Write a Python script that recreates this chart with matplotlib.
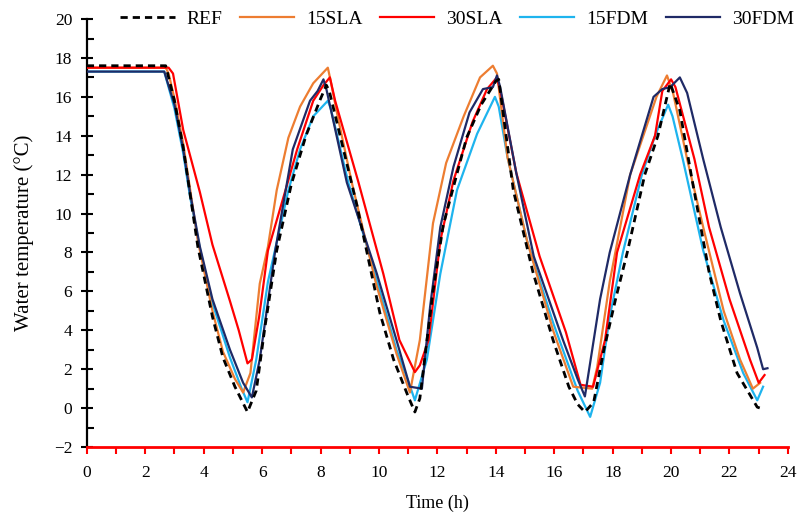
import numpy as np
import matplotlib.pyplot as plt
from matplotlib.ticker import MultipleLocator

plt.rcParams['font.family'] = ['Liberation Serif', 'DejaVu Serif']

# time (h) / water temperature (degC) traces
ref_t = [0, 2.7, 3.0, 3.3, 3.8, 4.3, 4.66, 5.07, 5.5, 5.8, 6.1, 6.5, 7.0, 7.5, 8.0, 8.2, 8.3,
         9.25, 10.03, 10.5, 11.0, 11.23, 11.4, 11.85, 12.2, 13.0, 13.5, 14.0, 14.1, 14.6, 15.27,
         15.96, 16.5, 16.8, 17.05, 17.35, 17.7, 18.1, 18.5, 19.1, 19.55, 19.97, 20.3, 20.7, 21.3,
         21.7, 22.26, 22.95, 23.05]
ref_v = [17.6, 17.6, 15.8, 13.4, 8.3, 4.7, 2.6, 1.1, -0.2, 0.9, 4.2, 8.1, 11.5, 14.0, 15.9, 16.6, 16.3,
         10.4, 4.9, 2.5, 0.6, -0.2, 0.5, 6.0, 9.4, 13.9, 15.6, 16.8, 16.9, 11.2, 7.0,
         3.5, 1.1, 0.2, -0.2, 0.3, 3.0, 5.6, 8.0, 12.0, 14.0, 16.7, 15.3, 11.9, 7.0,
         4.5, 1.8, 0.05, 0.0]

sla15_t = [0, 2.7, 2.8, 3.0, 3.3, 3.8, 4.3, 4.66, 5.07, 5.35, 5.6, 5.92, 6.2, 6.5, 6.9, 7.3, 7.75,
           8.0, 8.25, 8.35, 8.6, 9.07, 9.9, 10.6, 11.06, 11.4, 11.85, 12.3, 12.9, 13.46, 13.9,
           14.04, 14.4, 15.07, 15.96, 16.65, 17.3, 17.47, 17.9, 18.6, 19.05, 19.5, 19.86, 20.07,
           20.55, 21.1, 21.8, 22.36, 22.8, 23.05]
sla15_v = [17.5, 17.5, 17.2, 15.9, 13.6, 8.6, 5.0, 2.9, 1.5, 0.8, 1.8, 6.4, 8.3, 11.2, 13.9, 15.5, 16.7,
           17.1, 17.5, 16.8, 14.9, 11.6, 6.4, 2.8, 0.8, 3.5, 9.5, 12.6, 15.0, 17.0, 17.6,
           17.2, 12.9, 8.6, 4.0, 1.1, 1.0, 2.1, 6.5, 12.0, 14.0, 16.0, 17.1, 16.2,
           12.8, 9.3, 5.0, 2.5, 1.0, 1.3]

sla30_t = [0, 2.8, 2.95, 3.3, 3.87, 4.3, 4.9, 5.2, 5.5, 5.65, 5.9, 6.2, 6.8, 7.2, 7.75, 8.1, 8.32,
           8.5, 9.3, 10.15, 10.7, 11.23, 11.4, 11.7, 12.1, 12.55, 13.2, 13.7, 14.04, 14.2, 14.7,
           15.5, 16.4, 16.9, 17.33, 17.74, 18.15, 18.94, 19.45, 19.7, 20.0, 20.15, 20.8, 21.3,
           22.0, 22.7, 23.0, 23.2]
sla30_v = [17.5, 17.5, 17.2, 14.3, 11.1, 8.4, 5.5, 4.0, 2.3, 2.5, 4.7, 8.1, 11.2, 13.3, 15.8, 16.6, 17.0,
           15.8, 11.6, 6.9, 3.5, 1.85, 2.2, 3.5, 8.6, 11.7, 14.7, 16.4, 17.0, 16.0, 12.1,
           7.8, 3.9, 1.2, 1.1, 3.5, 8.0, 12.0, 14.0, 16.3, 16.9, 16.5, 12.8, 9.3,
           5.6, 2.5, 1.3, 1.7]

fdm15_t = [0, 2.65, 3.0, 3.3, 3.53, 3.87, 4.3, 4.9, 5.3, 5.5, 5.8, 6.2, 6.9, 7.3, 7.75, 8.25, 8.35,
           8.95, 9.9, 10.6, 11.0, 11.23, 11.64, 12.1, 12.67, 13.36, 13.97, 14.1, 14.4, 15.07,
           15.96, 16.8, 17.23, 17.57, 17.9, 18.35, 19.0, 19.45, 19.9, 20.05, 20.4, 21.1, 21.8,
           22.47, 22.95, 23.15]
fdm15_v = [17.3, 17.3, 15.4, 13.1, 10.9, 8.2, 5.4, 2.6, 1.0, 0.3, 2.5, 6.5, 11.2, 13.3, 15.0, 15.8, 15.4,
           11.6, 6.7, 3.0, 1.4, 0.4, 2.5, 6.9, 11.2, 14.1, 16.0, 15.5, 12.9, 8.6,
           4.4, 0.9, -0.45, 1.3, 4.7, 8.0, 12.0, 14.0, 15.6, 15.0, 12.8, 8.1, 4.5,
           1.8, 0.4, 1.1]

fdm30_t = [0, 2.65, 3.0, 3.3, 3.53, 3.87, 4.3, 4.9, 5.35, 5.65, 5.92, 6.45, 7.05, 7.64, 7.9, 8.1,
           8.2, 8.9, 9.93, 10.6, 11.06, 11.47, 11.75, 12.1, 12.55, 13.1, 13.56, 13.9, 14.04,
           14.15, 14.7, 15.3, 16.3, 16.8, 17.05, 17.3, 17.57, 17.9, 18.6, 19.0, 19.4, 19.7,
           19.97, 20.3, 20.55, 21.1, 21.7, 22.36, 22.95, 23.15, 23.3]
fdm30_v = [17.3, 17.3, 15.6, 13.3, 11.1, 8.3, 5.6, 3.0, 1.3, 0.55, 2.5, 8.1, 13.3, 15.8, 16.3, 16.9,
           16.4, 11.6, 6.9, 3.5, 1.1, 1.0, 5.2, 9.3, 12.4, 15.2, 16.4, 16.5, 17.1,
           16.5, 12.1, 7.8, 3.5, 1.5, 0.6, 3.0, 5.6, 8.0, 12.0, 14.0, 16.0, 16.4,
           16.5, 17.0, 16.2, 12.8, 9.3, 5.9, 3.1, 2.0, 2.05]

fig = plt.figure(figsize=(8.04, 5.15), dpi=100)
ax = fig.add_axes([0.108, 0.132, 0.872, 0.831])

h_ref, = ax.plot(ref_t, ref_v, color='black', lw=2, ls=(0, (2.6, 1.8)), label='REF', zorder=6)
h_s15, = ax.plot(sla15_t, sla15_v, color='#ED7D31', lw=1.6, label='15SLA', zorder=3)
h_s30, = ax.plot(sla30_t, sla30_v, color='#FF0000', lw=1.6, label='30SLA', zorder=4)
h_f15, = ax.plot(fdm15_t, fdm15_v, color='#1EB4EE', lw=1.6, label='15FDM', zorder=2)
h_f30, = ax.plot(fdm30_t, fdm30_v, color='#1F2A66', lw=1.6, label='30FDM', zorder=5)

ax.set_xlim(0, 24)
ax.set_ylim(-2, 20)
ax.xaxis.set_major_locator(MultipleLocator(2))
ax.xaxis.set_minor_locator(MultipleLocator(1))
ax.yaxis.set_major_locator(MultipleLocator(2))
ax.yaxis.set_minor_locator(MultipleLocator(1))

for s in ['top', 'right']:
    ax.spines[s].set_visible(False)
ax.spines['bottom'].set_color('#FF0000')
ax.spines['bottom'].set_linewidth(2)
ax.spines['left'].set_linewidth(1.6)

ax.tick_params(axis='x', which='both', direction='out', color='#FF0000', width=1.5,
               labelsize=12.5, labelcolor='black', pad=8)
ax.tick_params(axis='x', which='major', length=5)
ax.tick_params(axis='x', which='minor', length=5)
ax.tick_params(axis='y', which='major', direction='inout', length=9, width=1.5,
               labelsize=12.5, pad=6)
ax.tick_params(axis='y', which='minor', direction='in', length=5, width=1.5)

ax.set_xlabel('Time (h)', fontsize=13, labelpad=10)
ax.set_ylabel('Water temperature (°C)', fontsize=15, labelpad=14)

ax.legend(handles=[h_ref, h_s15, h_s30, h_f15, h_f30], loc='center', bbox_to_anchor=(0.528, 1.0),
          ncol=5, frameon=False, fontsize=14, handlelength=2.8, columnspacing=0.9,
          handletextpad=0.6, borderaxespad=0)

fig.savefig('out.png', dpi=100)
